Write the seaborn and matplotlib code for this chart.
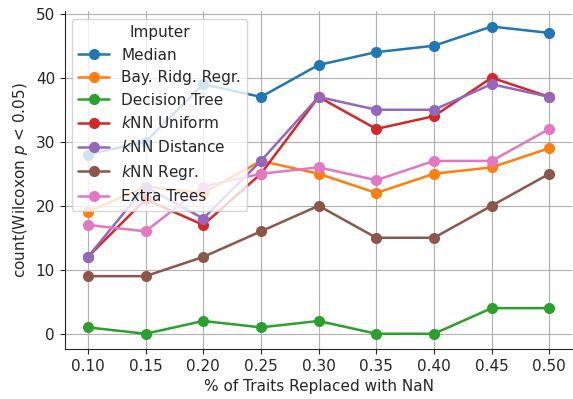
import pandas as pd
import seaborn as sns
import matplotlib.pyplot as plt

# share of traits replaced with NaN
fractions = [0.10, 0.15, 0.20, 0.25, 0.30, 0.35, 0.40, 0.45, 0.50]
imputers = ["Median", "Bay. Ridg. Regr.", "Decision Tree", "$k$NN Uniform",
            "$k$NN Distance", "$k$NN Regr.", "Extra Trees"]

median = [28, 30, 39, 37, 42, 44, 45, 48, 47]
bay_ridge = [19, 23, 22, 27, 25, 22, 25, 26, 29]
decision_tree = [1, 0, 2, 1, 2, 0, 0, 4, 4]
knn_uniform = [12, 21, 17, 25, 37, 32, 34, 40, 37]
knn_distance = [12, 23, 18, 27, 37, 35, 35, 39, 37]
knn_regr = [9, 9, 12, 16, 20, 15, 15, 20, 25]
extra_trees = [17, 16, 23, 25, 26, 24, 27, 27, 32]

series = [median, bay_ridge, decision_tree, knn_uniform,
          knn_distance, knn_regr, extra_trees]
rows = []
for name, vals in zip(imputers, series):
    for f, v in zip(fractions, vals):
        rows.append({"frac": f, "count": v, "Imputer": name})
df = pd.DataFrame(rows)

sns.set_style("ticks", {"axes.grid": True, "grid.color": "#b0b0b0"})
plt.rcParams["font.family"] = ["DejaVu Sans"]
plt.rcParams["font.size"] = 11

fig, ax = plt.subplots(figsize=(5.73, 3.99), dpi=100)
sns.lineplot(data=df, x="frac", y="count", hue="Imputer", hue_order=imputers,
             marker="o", markersize=8, markeredgewidth=0, linewidth=1.8,
             palette="tab10", ax=ax)
sns.despine(ax=ax)

ax.set_xticks(fractions)
ax.set_xticklabels([f"{f:.2f}" for f in fractions])
ax.set_yticks([0, 10, 20, 30, 40, 50])
ax.tick_params(labelsize=11)
ax.set_xlabel("% of Traits Replaced with NaN", fontsize=11)
ax.set_ylabel("count(Wilcoxon $p$ < 0.05)", fontsize=11)
ax.legend(title="Imputer", loc="upper left", framealpha=0.8,
          fontsize=11, title_fontsize=11)

fig.subplots_adjust(left=0.113, right=0.999, bottom=0.125, top=0.972)
fig.savefig("out.png", dpi=100)
